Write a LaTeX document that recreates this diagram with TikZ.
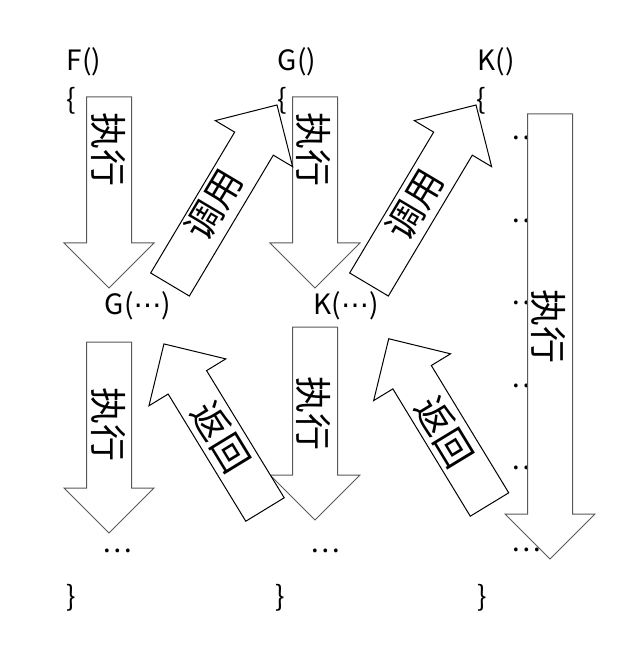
\documentclass[tikz,border=0pt]{standalone}
\usepackage{fontspec}
\setmainfont{Noto Sans CJK SC}
\newfontfamily\dotsfont{DejaVu Sans}
\usetikzlibrary{shapes.arrows}
\tikzset{blockarrow/.style = {single arrow, fill=white, line width=1pt,
                              inner xsep=0pt, inner ysep=22pt, outer sep=0pt,
                              single arrow head extend=22.5pt,
                              single arrow tip angle=90, anchor=tail}}
\tikzset{runarrow/.style = {blockarrow, draw=black!65}}
\tikzset{callarrow/.style = {blockarrow, draw=black}}
\tikzset{steplabel/.style = {font=\fontsize{37}{37}\selectfont, inner sep=0pt}}
\tikzset{codeline/.style = {font=\fontsize{28}{28}\selectfont, inner sep=0pt}}
\begin{document}
\begin{tikzpicture}[x=1pt,y=-1pt]
	\useasboundingbox (0,0) rectangle (620,647);
	\draw (84,62) node[codeline] (fname) {F()};
	\draw (71,101) node[codeline] (fopen) {\{};
	\draw (117,551) node[codeline] (fdots) {…};
	\draw (71,598) node[codeline] (fclose) {\}};
	\draw (297,62) node[codeline] (gname) {G()};
	\draw (282,101) node[codeline] (gopen) {\{};
	\draw (325,551) node[codeline] (gdots) {…};
	\draw (280,598) node[codeline] (gclose) {\}};
	\draw (496,62) node[codeline] (kname) {K()};
	\draw (481,101) node[codeline] (kopen) {\{};
	\foreach \i/\y in {1/138,2/221,3/303,4/386,5/468,6/550}
		\draw (526,\y) node[codeline] (kdots\i) {…};
	\draw (482,598) node[codeline] (kclose) {\}};
	\draw (138,306) node[codeline] (gcall) {G({\dotsfont ⋯})};
	\draw (346,306) node[codeline] (kcall) {K({\dotsfont ⋯})};
	% execution arrows
	\node[runarrow, rotate=-90, minimum height=191pt] (frun) at (109,97) {};
	\node[runarrow, rotate=-90, minimum height=191pt] (grun) at (315,97) {};
	\node[runarrow, rotate=-90, minimum height=191pt] (fback) at (109,342) {};
	\node[runarrow, rotate=-90, minimum height=193pt] (gback) at (315,327) {};
	\node[runarrow, rotate=-90, minimum height=445pt] (krun) at (550,114) {};
	% call and return arrows
	\node[callarrow, rotate=59.2, minimum height=209pt] (fcallg) at (170,284.5) {};
	\node[callarrow, rotate=59.2, minimum height=209pt] (gcallk) at (369,284.5) {};
	\node[callarrow, rotate=121.4, minimum height=194pt] (gretf) at (265,509.5) {};
	\node[callarrow, rotate=121.3, minimum height=194pt] (kretg) at (489.5,504.5) {};
	% labels
	\draw (109,150) node[steplabel, rotate=-90] (frunlabel) {执行};
	\draw (314,150) node[steplabel, rotate=-90] (grunlabel) {执行};
	\draw (109,424) node[steplabel, rotate=-90] (fbacklabel) {执行};
	\draw (314,413) node[steplabel, rotate=-90] (gbacklabel) {执行};
	\draw (549,326) node[steplabel, rotate=-90] (krunlabel) {执行};
	\draw (214,205) node[steplabel, rotate=59.2] (fcalllabel) {调用};
	\draw (415,205) node[steplabel, rotate=59.2] (gcalllabel) {调用};
	\draw (221,437) node[steplabel, rotate=-58.6] (gretlabel) {返回};
	\draw (444,432) node[steplabel, rotate=-58.7] (kretlabel) {返回};
\end{tikzpicture}
\end{document}
